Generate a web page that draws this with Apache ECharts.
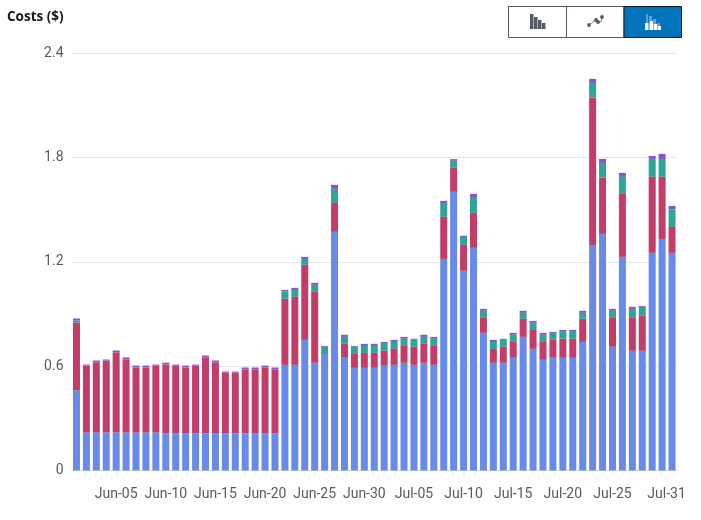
<!DOCTYPE html>
<html><head><meta charset="utf-8">
<style>html,body{margin:0;padding:0;background:#fff}#c{width:701px;height:520px}</style>
<script src="https://cdn.jsdelivr.net/npm/echarts@6/dist/echarts.min.js"></script>
</head><body><div id="c"></div>
<script>
const tops = {
  blue:   [.46,.218,.218,.218,.218,.218,.218,.218,.218,.213,.213,.213,.213,.213,.213,.213,.213,.213,.213,.213,.213,.607,.607,.751,.619,.67,1.372,.648,.59,.59,.59,.602,.607,.619,.607,.619,.607,1.216,1.602,1.148,1.28,.791,.619,.619,.648,.768,.699,.636,.648,.648,.648,.739,1.297,1.36,.711,1.228,.688,.688,1.251,1.331,1.251],
  red:    [.85,.603,.62,.632,.678,.638,.592,.592,.603,.609,.603,.592,.603,.649,.62,.563,.563,.58,.58,.592,.58,.987,.998,1.182,1.027,.67,1.538,.728,.67,.676,.676,.688,.699,.716,.711,.728,.716,1.458,1.74,1.297,1.481,.877,.699,.711,.739,.872,.808,.739,.751,.757,.757,.872,2.144,1.684,.877,1.59,.877,.889,1.688,1.688,1.4],
  green:  [.862,.603,.62,.632,.678,.638,.592,.592,.603,.609,.603,.592,.603,.649,.62,.563,.563,.58,.58,.592,.58,1.029,1.038,1.216,1.067,.711,1.619,.768,.711,.716,.716,.728,.739,.757,.751,.768,.757,1.538,1.78,1.337,1.567,.918,.739,.751,.78,.906,.849,.78,.791,.797,.797,.906,2.228,1.768,.918,1.688,.929,.941,1.791,1.791,1.5],
  purple: [.874,.609,.632,.638,.69,.65,.603,.603,.609,.62,.609,.603,.609,.661,.632,.569,.569,.592,.592,.603,.592,1.038,1.05,1.228,1.079,.716,1.642,.78,.716,.728,.728,.739,.751,.768,.757,.78,.768,1.55,1.79,1.349,1.59,.929,.751,.757,.791,.918,.86,.791,.797,.808,.808,.918,2.251,1.791,.929,1.711,.941,.946,1.808,1.82,1.521]
};
const blueVals = tops.blue;
const redVals = tops.red.map((v,i)=>+(v-tops.blue[i]).toFixed(3));
const greenVals = tops.green.map((v,i)=>+(v-tops.red[i]).toFixed(3));
const purpleVals = tops.purple.map((v,i)=>+(v-tops.green[i]).toFixed(3));
const days = [];
for(let d=1;d<=30;d++) days.push('Jun-'+String(d).padStart(2,'0'));
for(let d=1;d<=31;d++) days.push('Jul-'+String(d).padStart(2,'0'));
const shownTicks = ['Jun-05','Jun-10','Jun-15','Jun-20','Jun-25','Jun-30','Jul-05','Jul-10','Jul-15','Jul-20','Jul-25','Jul-31'];
const yTicks = [0,0.6,1.2,1.8,2.4];
const font = 'Roboto';
const showIt = (i,v)=>shownTicks.includes(v);
const mk = (name,data,color)=>({name,type:'bar',stack:'c',data,barWidth:7,itemStyle:{color},silent:true});
const r = (x,y,w,h,fill)=>({type:'rect',shape:{x,y,width:w,height:h},style:{fill},silent:true});
const pt = (x,y,fill)=>({type:'circle',shape:{cx:x,cy:y,r:1.9},style:{fill},silent:true});
const seg = (x1,y1,x2,y2,stroke)=>({type:'line',shape:{x1,y1,x2,y2},style:{stroke,lineWidth:1},silent:true});
const graphics = [
  {type:'text',x:7,y:10,style:{text:'Costs ($)',font:'700 13.5px "Open Sans"',fill:'#16191f'},silent:true},
  {type:'rect',shape:{x:508.5,y:6.5,width:115.5,height:31},style:{fill:'#fff',stroke:'#545b64',lineWidth:1},silent:true},
  seg(566.5,6.5,566.5,37.5,'#545b64'),
  {type:'rect',shape:{x:624,y:6.5,width:57.5,height:31},style:{fill:'#0073bb',stroke:'#16191f',lineWidth:1},silent:true},
  r(530,14,3.5,15,'#545b64'),r(534,17,3.5,12,'#545b64'),r(538,20,3.5,9,'#545b64'),r(542,23,3.5,6,'#545b64'),
  seg(589,25,597,19,'#8a9099'),seg(597,21,601,22,'#8a9099'),seg(601,22,602,17,'#8a9099'),
  pt(589,25,'#545b64'),pt(596,20,'#545b64'),pt(598,22,'#545b64'),pt(602,17,'#545b64'),
  r(645,23,3.5,7,'#fff'),r(649.5,21,3.5,9,'#fff'),r(653.5,24,3.5,6,'#fff'),r(657.5,26,3.5,4,'#fff'),
  r(646,14,2,9,'#5f9fd6'),r(649,16,3,5,'#5f9fd6'),r(653,19,3,5,'#5f9fd6'),r(657,23,3,3,'#5f9fd6')
];
const chart = echarts.init(document.getElementById('c'),null,{renderer:'canvas'});
const lab = {fontFamily:font,fontSize:14,color:'#545b64'};
chart.setOption({
  animation:false,
  backgroundColor:'#fff',
  grid:{left:71.5,right:24,top:53,bottom:49.5,containLabel:false},
  xAxis:{type:'category',data:days,
    axisLine:{lineStyle:{color:'#d5dbdb',width:1}},
    axisTick:{alignWithLabel:true,interval:showIt,length:5,lineStyle:{color:'#d5dbdb'}},
    axisLabel:Object.assign({interval:showIt,margin:17,hideOverlap:false,
      formatter:v=>v==='Jul-31'?'{last|'+v+'}':v,
      rich:{last:Object.assign({padding:[0,11,0,0]},lab)}},lab)},
  yAxis:{type:'value',min:0,max:2.4,interval:0.6,
    axisLine:{show:false},axisTick:{show:false},
    splitLine:{lineStyle:{color:'#e6e8e8',width:1}},
    axisLabel:Object.assign({margin:8,padding:[3,0,0,0],
      formatter:v=>{const t=yTicks.find(k=>Math.abs(k-v)<1e-6);return t===0?'0':t.toFixed(1);}},lab)},
  series:[mk('Blue',blueVals,'#688ae8'),mk('Red',redVals,'#c33d69'),mk('Green',greenVals,'#2ea597'),mk('Purple',purpleVals,'#8456ce')],
  graphic:graphics
});
</script></body></html>
